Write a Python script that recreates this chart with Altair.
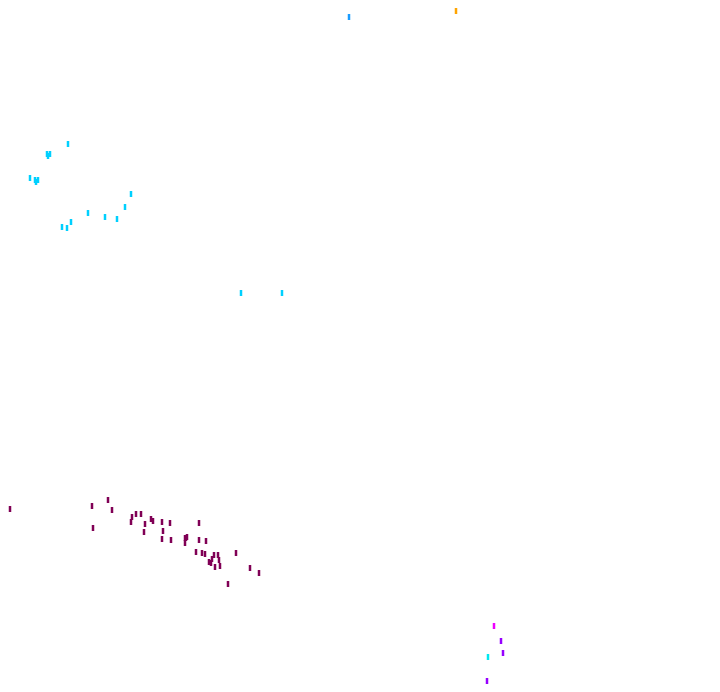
import altair as alt
import pandas as pd

# Mark positions (horizontal, vertical-downward units)
maroon_x = [4, 108, 92, 112, 93, 136, 141, 132, 131, 151, 145, 162, 170, 144, 163, 199,
            162, 171, 185, 185, 199, 206, 196, 202, 205, 214, 218, 236, 212, 219, 209, 211,
            215, 220, 250, 259, 228, 187, 153, 186]
maroon_y = [509, 500, 506, 510, 528, 514, 514, 517, 522, 519, 524, 522, 523, 532, 531, 523,
            539, 540, 538, 543, 540, 541, 552, 553, 554, 555, 555, 553, 559, 560, 562, 563,
            567, 566, 568, 573, 584, 537, 521, 538]
cyan_x = [68, 47, 50, 30, 35, 38, 131, 125, 88, 105, 117, 71, 67, 62, 241, 282, 48, 36]
cyan_y = [144, 154, 154, 178, 180, 180, 194, 207, 213, 217, 219, 222, 228, 227, 293, 293, 156, 182]
blue_x = [349]
blue_y = [17]
orange_x = [456]
orange_y = [4]
magenta_x = [494]
magenta_y = [626]
purple_x = [501, 503, 487]
purple_y = [641, 653, 684]
aqua_x = [488]
aqua_y = [657]

groups = ["maroon", "cyan", "blue", "orange", "magenta", "purple", "aqua"]
colors = ["#800055", "#00d0ff", "#1a9cff", "#ffa400", "#ee00ff", "#9600ff", "#00e8f0"]

rows = []
for g, xs, ys in [("maroon", maroon_x, maroon_y), ("cyan", cyan_x, cyan_y),
                  ("blue", blue_x, blue_y), ("orange", orange_x, orange_y),
                  ("magenta", magenta_x, magenta_y), ("purple", purple_x, purple_y),
                  ("aqua", aqua_x, aqua_y)]:
    for x, y in zip(xs, ys):
        rows.append({"x": x, "y": y, "group": g})
df = pd.DataFrame(rows)

W, H = 704, 676
chart = alt.Chart(df).mark_tick(orient="vertical", size=6, thickness=2.5, opacity=1).encode(
    x=alt.X("x:Q", scale=alt.Scale(domain=[10, 10 + 690], range=[2, 2 + 690],
                                   nice=False, zero=False, clamp=True), axis=None),
    y=alt.Y("y:Q", scale=alt.Scale(domain=[11, 681], range=[3, 673],
                                   nice=False, zero=False, clamp=True), axis=None),
    color=alt.Color("group:N", scale=alt.Scale(domain=groups, range=colors), legend=None),
).properties(
    width=W, height=H, padding=0, autosize="none"
).configure_view(stroke=None)

chart.save("out.html", embed_options={"renderer": "svg", "actions": False})
